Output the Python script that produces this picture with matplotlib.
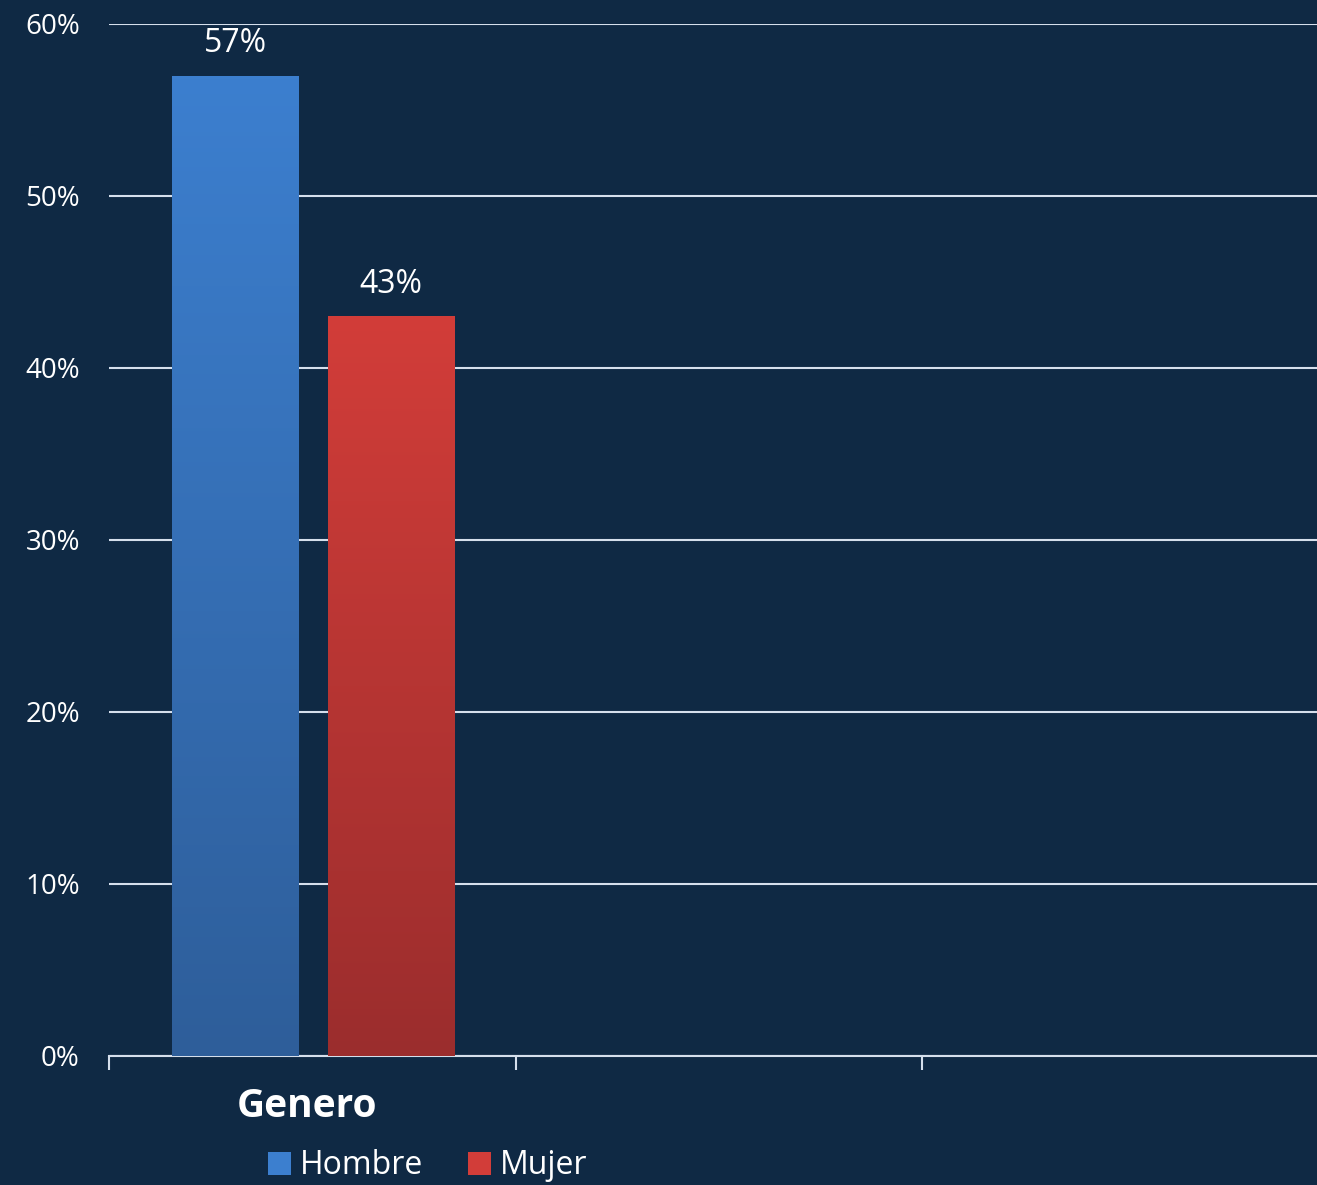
import numpy as np
import matplotlib.pyplot as plt
from matplotlib.colors import LinearSegmentedColormap
from matplotlib.patches import Patch

# data
categories = ["Genero", "", ""]
series = ["Hombre", "Mujer"]
hombre = [57, None, None]
mujer = [43, None, None]
yticks = [0, 10, 20, 30, 40, 50, 60]

bg = "#0f2944"
grid_col = "#d5dfec"
top_cols = {"Hombre": "#3c7fcf", "Mujer": "#d23d39"}
bot_cols = {"Hombre": "#2e5e9a", "Mujer": "#9b2d2d"}

plt.rcParams['font.family'] = ['Open Sans', 'DejaVu Sans']

fig = plt.figure(figsize=(13.17, 11.85), dpi=100, facecolor=bg)
ax = fig.add_axes([109 / 1317, 129 / 1185, 1219.5 / 1317, 1032 / 1185])
ax.set_facecolor(bg)

x = np.arange(len(categories))
width = 0.31
offsets = [-0.19, 0.193]

for name, vals, off in zip(series, [hombre, mujer], offsets):
    cmap = LinearSegmentedColormap.from_list(name, [bot_cols[name], top_cols[name]])
    for xi, v in zip(x, vals):
        if v is None:
            continue
        left = xi + off - width / 2
        bar = ax.bar(xi + off, v, width, color="none", edgecolor="none", zorder=3)[0]
        grad = np.linspace(0, 1, 256).reshape(-1, 1)
        im = ax.imshow(grad, cmap=cmap, origin="lower", aspect="auto",
                       extent=[left, left + width, 0, v], zorder=3)
        im.set_clip_path(bar)
        ax.text(xi + off, v + 0.9, f"{v}%", ha="center", va="bottom",
                color="white", fontsize=23, zorder=4)

ax.set_xlim(-0.5, len(categories) - 0.5)
ax.set_ylim(0, 60)
ax.set_yticks(yticks)
ax.set_yticklabels([f"{t}%" for t in yticks], color="white", fontsize=20)
ax.tick_params(axis="y", length=0, pad=21)
ax.grid(axis="y", color=grid_col, linewidth=1.5, zorder=1)
ax.set_axisbelow(True)

# category ticks at the boundaries
ax.set_xticks(np.arange(len(categories) + 1) - 0.5)
ax.set_xticklabels([])
ax.tick_params(axis="x", length=10, width=1.5, color=grid_col, direction="out")
for xi, c in zip(x, categories):
    ax.text(xi - 0.012, -2.95, c, ha="center", va="center", color="white",
            fontsize=28, fontweight="bold", family=["Open Sans", "DejaVu Sans"])

for s in ["top", "right", "left"]:
    ax.spines[s].set_visible(False)
ax.spines["bottom"].set_color(grid_col)
ax.spines["bottom"].set_linewidth(1.5)

handles = [Patch(facecolor=top_cols[s], edgecolor="none") for s in series]
fig.legend(handles, series, loc="center", bbox_to_anchor=(428 / 1317, 1 - 1166 / 1185),
           ncol=2, frameon=False, fontsize=23, labelcolor="white",
           handlelength=0.7, handleheight=0.7, handletextpad=0.3, columnspacing=1.4)

fig.savefig("out.png", dpi=100, facecolor=bg)
